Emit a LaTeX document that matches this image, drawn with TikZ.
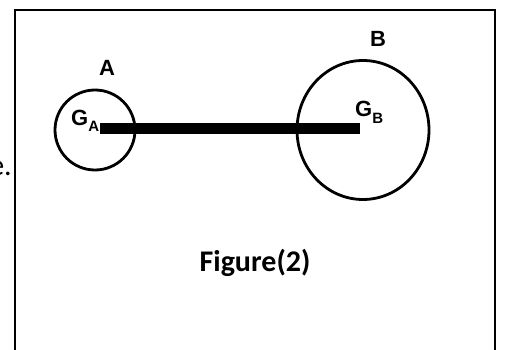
\documentclass[tikz,border=0pt]{standalone}
\usepackage{fontspec}
\usetikzlibrary{shapes.geometric}
\setmainfont{Carlito}
\newfontfamily\arialfont{Liberation Sans}
\newcommand{\subtxt}[1]{\raisebox{-6pt}{\fontsize{15}{15}\selectfont #1}}
\tikzset{
  body/.style={draw=black, line width=2.8pt},
  lbl/.style={font=\arialfont\bfseries\fontsize{22}{22}\selectfont, inner sep=0pt},
  rod/.style={line width=11pt},
}
\begin{document}
\begin{tikzpicture}[x=1pt,y=-1pt]
\useasboundingbox (0,0) rectangle (505,350);
\draw[line width=1.3pt] (15,360) -- (15,10) -- (495,10) -- (495,360);
\node[anchor=base east, inner sep=0pt, font=\fontsize{30}{30}\selectfont] (txt) at (12,175) {e.};
\node[body, circle, minimum size=80pt, inner sep=0pt] (A) at (95,130) {};
\node[body, ellipse, minimum width=132pt, minimum height=139pt, inner sep=0pt] (B) at (363,130) {};
\coordinate (ga) at (100,128.5);
\coordinate (gb) at (360,128.5);
\draw[rod] (ga) -- (gb);
\node[lbl, anchor=base] (la) at (107,76) {A};
\node[lbl, anchor=base] (lb) at (378,47) {B};
\node[lbl, anchor=base west] (lga) at (71,125) {G\subtxt{A}};
\node[lbl, anchor=base west] (lgb) at (355,117) {G\subtxt{B}};
\node[font=\bfseries\fontsize{30}{30}\selectfont, inner sep=0pt, anchor=base] (fig) at (255,271) {Figure(2)};
\end{tikzpicture}
\end{document}
